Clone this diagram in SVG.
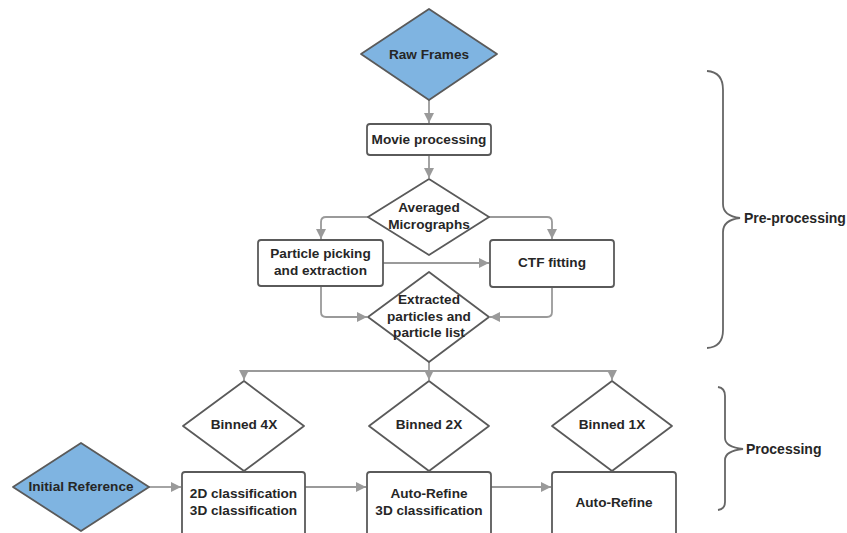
<svg xmlns="http://www.w3.org/2000/svg" width="847" height="533" viewBox="0 0 847 533">
  <style>
    .box { fill: #ffffff; stroke: #5a5a5a; stroke-width: 1.8; }
    .dia { fill: #ffffff; stroke: #5a5a5a; stroke-width: 1.8; stroke-linejoin: round; }
    .blue { fill: #7fb4e1; }
    .lbl { font-family: "Liberation Sans", Arial, sans-serif; font-weight: bold; font-size: 13.6px; fill: #262626; text-anchor: middle; dominant-baseline: central; }
    .side { font-family: "Liberation Sans", Arial, sans-serif; font-weight: bold; font-size: 14px; fill: #262626; dominant-baseline: central; }
    .conn { fill: none; stroke: #9a9a9a; stroke-width: 1.8; stroke-linejoin: round; }
    .brace { fill: none; stroke: #666666; stroke-width: 1.8; }
  </style>
  <defs>
    <marker id="arrow" viewBox="0 0 10 10" refX="10" refY="5" markerWidth="12" markerHeight="10" markerUnits="userSpaceOnUse" orient="auto">
      <path d="M0,0 L10,5 L0,10 Z" fill="#9a9a9a"/>
    </marker>
  </defs>

  <rect width="847" height="533" fill="#ffffff"/>

  <!-- connectors -->
  <g id="connectors">
    <path class="conn" d="M429,100 V123" marker-end="url(#arrow)"/>
    <path class="conn" d="M429,155 V178" marker-end="url(#arrow)"/>
    <path class="conn" d="M368,217 H326 Q321,217 321,222 V239" marker-end="url(#arrow)"/>
    <path class="conn" d="M489,217 H547 Q552,217 552,222 V239" marker-end="url(#arrow)"/>
    <path class="conn" d="M383,263 H489" marker-end="url(#arrow)"/>
    <path class="conn" d="M321,286 V312 Q321,317 326,317 H367" marker-end="url(#arrow)"/>
    <path class="conn" d="M552,287 V312 Q552,317 547,317 H490" marker-end="url(#arrow)"/>
    <path class="conn" d="M429,362 V380" marker-end="url(#arrow)"/>
    <path class="conn" d="M429,371 H249 Q244,371 244,376 V380" marker-end="url(#arrow)"/>
    <path class="conn" d="M429,371 H607 Q612,371 612,376 V380" marker-end="url(#arrow)"/>
    <path class="conn" d="M149,487 H181" marker-end="url(#arrow)"/>
    <path class="conn" d="M305,487 H366" marker-end="url(#arrow)"/>
    <path class="conn" d="M491,487 H551" marker-end="url(#arrow)"/>
  </g>

  <g id="raw-frames">
    <path class="dia blue" d="M429,9 L497,54 L429,100 L361,54 Z"/>
    <text class="lbl" x="429" y="54">Raw Frames</text>
  </g>

  <g id="movie-processing">
    <rect class="box" x="367" y="124" width="124" height="31" rx="3"/>
    <text class="lbl" x="429" y="139.5">Movie processing</text>
  </g>

  <g id="averaged-micrographs">
    <path class="dia" d="M429,179 L489,217 L429,255 L368,217 Z"/>
    <text class="lbl" x="429" y="207">Averaged</text>
    <text class="lbl" x="429" y="224">Micrographs</text>
  </g>

  <g id="particle-picking">
    <rect class="box" x="258" y="240" width="125" height="46" rx="3"/>
    <text class="lbl" x="320.5" y="253">Particle picking</text>
    <text class="lbl" x="320.5" y="270">and extraction</text>
  </g>

  <g id="ctf-fitting">
    <rect class="box" x="490" y="240" width="124" height="47" rx="3"/>
    <text class="lbl" x="552" y="262">CTF fitting</text>
  </g>

  <g id="extracted-particles">
    <path class="dia" d="M429,272 L489,317 L429,362 L368,317 Z"/>
    <text class="lbl" x="429" y="299">Extracted</text>
    <text class="lbl" x="429" y="316">particles and</text>
    <text class="lbl" x="429" y="332">particle list</text>
  </g>

  <g id="binned-4x">
    <path class="dia" d="M244,381 L304,426 L244,471 L183,426 Z"/>
    <text class="lbl" x="244" y="424">Binned 4X</text>
  </g>

  <g id="binned-2x">
    <path class="dia" d="M429,381 L489,426 L429,471 L369,426 Z"/>
    <text class="lbl" x="429" y="424">Binned 2X</text>
  </g>

  <g id="binned-1x">
    <path class="dia" d="M612,381 L672,426 L612,471 L552,426 Z"/>
    <text class="lbl" x="612" y="424">Binned 1X</text>
  </g>

  <g id="initial-reference">
    <path class="dia blue" d="M81,443 L149,487 L81,531 L13,487 Z"/>
    <text class="lbl" x="81" y="486">Initial Reference</text>
  </g>

  <g id="classification-4x">
    <rect class="box" x="182" y="472" width="123" height="70" rx="3"/>
    <text class="lbl" x="243.5" y="493">2D classification</text>
    <text class="lbl" x="243.5" y="510">3D classification</text>
  </g>

  <g id="auto-refine-2x">
    <rect class="box" x="367" y="472" width="124" height="70" rx="3"/>
    <text class="lbl" x="429" y="493">Auto-Refine</text>
    <text class="lbl" x="429" y="510">3D classification</text>
  </g>

  <g id="auto-refine-1x">
    <rect class="box" x="552" y="472" width="124" height="70" rx="3"/>
    <text class="lbl" x="614" y="502">Auto-Refine</text>
  </g>

  <!-- stage braces -->
  <g id="pre-processing">
    <path class="brace" d="M707,71 Q723,72 723,90 V204 Q723,216 740,218 Q723,220 723,232 V330 Q723,347 707,348"/>
    <text class="side" x="744" y="218">Pre-processing</text>
  </g>

  <g id="processing">
    <path class="brace" d="M718,387 Q725,388 725,396 V438 Q725,447 743,449 Q725,451 725,460 V502 Q725,509 718,510"/>
    <text class="side" x="746" y="449">Processing</text>
  </g>
</svg>
